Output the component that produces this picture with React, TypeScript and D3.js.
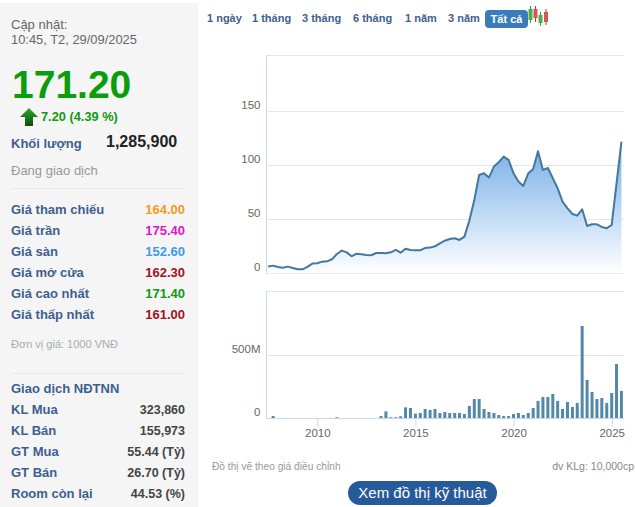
import * as d3 from "d3";
import { useEffect, useRef } from "react";

const W = 635;
const H = 507;

// one entry per quarter, Q3 2007 .. Q3 2025
const quarters = [
  "2007-07", "2007-10",
  "2008-01", "2008-04", "2008-07", "2008-10",
  "2009-01", "2009-04", "2009-07", "2009-10",
  "2010-01", "2010-04", "2010-07", "2010-10",
  "2011-01", "2011-04", "2011-07", "2011-10",
  "2012-01", "2012-04", "2012-07", "2012-10",
  "2013-01", "2013-04", "2013-07", "2013-10",
  "2014-01", "2014-04", "2014-07", "2014-10",
  "2015-01", "2015-04", "2015-07", "2015-10",
  "2016-01", "2016-04", "2016-07", "2016-10",
  "2017-01", "2017-04", "2017-07", "2017-10",
  "2018-01", "2018-04", "2018-07", "2018-10",
  "2019-01", "2019-04", "2019-07", "2019-10",
  "2020-01", "2020-04", "2020-07", "2020-10",
  "2021-01", "2021-04", "2021-07", "2021-10",
  "2022-01", "2022-04", "2022-07", "2022-10",
  "2023-01", "2023-04", "2023-07", "2023-10",
  "2024-01", "2024-04", "2024-07", "2024-10",
  "2025-01", "2025-04", "2025-07",
];

const prices = [
  6.2, 7.1, 5.9, 5.2, 6.2, 4.9, 3.7, 3.7, 5.9, 9, 9.3, 10.8, 11.1, 13, 17.9, 21, 19.4,
  15.7, 18.2, 17.6, 17, 16.7, 18.8, 18.8, 18.5, 19.4, 21.6, 19.1, 22.8, 21.6, 21.3, 21.3, 23.5,
  23.8, 25, 27.8, 30.2, 31.8, 32.4, 30.9, 34, 48.8, 67.9, 91, 92.6, 88.6, 98.8, 102.8, 108,
  105, 92.6, 84.9, 80.9, 92.6, 96.6, 113, 95.7, 97.5, 88, 78.7, 66.4, 60.2, 54.9, 53.4, 59.3,
  43.8, 45.4, 45.4, 42.9, 41.7, 44.8, 83.3, 121.9,
];

// millions of shares
const volumes = [
  0, 18, 0, 0, 0, 0, 0, 0, 0, 0, 0, 0, 0, 0, 8, 0, 0, 0, 0, 0, 0, 0, 0, 18, 55, 8, 8, 16, 87, 82, 37, 42, 74,
  66, 74, 42, 50, 42, 42, 42, 34, 98, 153, 153, 74, 50, 42, 26, 18, 18, 34, 42, 26, 42, 82, 138, 169, 169,
  193, 138, 74, 130, 90, 122, 733, 304, 209, 153, 161, 122, 201, 431, 217,
];

const priceTicks = [0, 50, 100, 150];
const volumeTicks = [0, 500];
const yearTicks = [2010, 2015, 2020, 2025];

const ranges = ["1 ngày", "1 tháng", "3 tháng", "6 tháng", "1 năm", "3 năm"];
const rangeX = [207, 252, 302, 353, 405, 448];

const priceLabels = ["Giá tham chiếu", "Giá trần", "Giá sàn", "Giá mở cửa", "Giá cao nhất", "Giá thấp nhất"];
const priceValues = ["164.00", "175.40", "152.60", "162.30", "171.40", "161.00"];
const priceColors = ["#f59a23", "#e313d0", "#3d9be9", "#a80f1c", "#0f9a12", "#a80f1c"];

const foreignLabels = ["KL Mua", "KL Bán", "GT Mua", "GT Bán", "Room còn lại"];
const foreignValues = ["323,860", "155,973", "55.44 (Tỷ)", "26.70 (Tỷ)", "44.53 (%)"];

const ARIAL = "'Liberation Sans', Arial, sans-serif";
const BLUE = "#3d5f8f";
const AXIS = "#ccd6eb";
const GRID = "#e6e6e6";

const parse = d3.timeParse("%Y-%m");
const dates = quarters.map((q) => parse(q) as Date);

const Chart = () => {
  const ref = useRef<SVGGElement>(null);

  useEffect(() => {
    const g = d3.select(ref.current);
    g.selectAll("*").remove();

    const x = d3
      .scaleTime()
      .domain([new Date(2010, 0, 1), new Date(2025, 0, 1)])
      .range([317.3, 611.7]);
    const yPrice = d3.scaleLinear().domain([0, 150]).range([273.3, 111.3]);
    const yVol = d3.scaleLinear().domain([0, 500]).range([418.3, 355.3]);

    const left = 266.5;
    const right = 624;

    const axisText = (sel: any) =>
      sel.attr("font-family", ARIAL).attr("font-size", 11.5).attr("fill", "#666");

    // frame lines
    g.append("line").attr("x1", left).attr("x2", right).attr("y1", 55.5).attr("y2", 55.5).attr("stroke", GRID);
    g.append("line").attr("x1", left).attr("x2", right).attr("y1", 291.5).attr("y2", 291.5).attr("stroke", GRID);
    g.append("line").attr("x1", left).attr("x2", left).attr("y1", 55).attr("y2", 273.5).attr("stroke", AXIS);
    g.append("line").attr("x1", left).attr("x2", left).attr("y1", 291).attr("y2", 418.5).attr("stroke", AXIS);

    // price axis
    const yAxisPrice = d3.axisLeft(yPrice).tickValues(priceTicks).tickSize(0).tickPadding(6);
    const pa = g.append("g").attr("transform", `translate(${left},0)`).call(yAxisPrice);
    pa.select(".domain").remove();
    axisText(pa.selectAll("text")).attr("dy", "-0.25em");

    g.append("g")
      .selectAll("line")
      .data(priceTicks)
      .enter()
      .append("line")
      .attr("x1", left)
      .attr("x2", right)
      .attr("y1", (d) => Math.round(yPrice(d)) + 0.5)
      .attr("y2", (d) => Math.round(yPrice(d)) + 0.5)
      .attr("stroke", GRID);

    // area + line
    const defs = g.append("defs");
    const grad = defs
      .append("linearGradient")
      .attr("id", "priceFill")
      .attr("gradientUnits", "userSpaceOnUse")
      .attr("x1", 0)
      .attr("x2", 0)
      .attr("y1", yPrice(113))
      .attr("y2", yPrice(0));
    grad.append("stop").attr("offset", "0%").attr("stop-color", "#7db2ea");
    grad.append("stop").attr("offset", "100%").attr("stop-color", "#ffffff");

    const area = d3
      .area<number>()
      .x((_, i) => x(dates[i]))
      .y0(yPrice(0))
      .y1((d) => yPrice(d));
    const line = d3
      .line<number>()
      .x((_, i) => x(dates[i]))
      .y((d) => yPrice(d));

    g.append("path").attr("d", area(prices)).attr("fill", "url(#priceFill)");
    g.append("path")
      .attr("d", line(prices))
      .attr("fill", "none")
      .attr("stroke", "#42799f")
      .attr("stroke-width", 2)
      .attr("stroke-linejoin", "round");

    // volume
    const yAxisVol = d3
      .axisLeft(yVol)
      .tickValues(volumeTicks)
      .tickSize(0)
      .tickPadding(6)
      .tickFormat((d) => (d === 0 ? "0" : `${d}M`));
    const va = g.append("g").attr("transform", `translate(${left},0)`).call(yAxisVol);
    va.select(".domain").remove();
    axisText(va.selectAll("text")).attr("dy", "-0.25em");

    g.append("line")
      .attr("x1", left)
      .attr("x2", right)
      .attr("y1", Math.round(yVol(500)) + 0.5)
      .attr("y2", Math.round(yVol(500)) + 0.5)
      .attr("stroke", GRID);

    const barW = 3;
    g.append("g")
      .selectAll("rect")
      .data(volumes)
      .enter()
      .append("rect")
      .attr("x", (_, i) => x(dates[i]) - barW / 2)
      .attr("y", (d) => yVol(d))
      .attr("width", barW)
      .attr("height", (d) => yVol(0) - yVol(d))
      .attr("fill", "#5389a8");

    // year axis
    const xAxis = d3
      .axisBottom(x)
      .tickValues(yearTicks.map((y) => new Date(y, 0, 1)))
      .tickSize(8)
      .tickPadding(2)
      .tickFormat((d) => d3.timeFormat("%Y")(d as Date));
    const xa = g.append("g").attr("transform", "translate(0,418.5)").call(xAxis);
    xa.select(".domain").remove();
    xa.selectAll("line").attr("stroke", AXIS);
    axisText(xa.selectAll("text"));
    g.append("line").attr("x1", left).attr("x2", right).attr("y1", 418.5).attr("y2", 418.5).attr("stroke", AXIS);
  }, []);

  return <g ref={ref} />;
};

export default function App() {
  return (
    <svg
      width={W}
      height={H}
      viewBox={`0 0 ${W} ${H}`}
      style={{ position: "absolute", left: 0, top: 0, background: "#fff" }}
      fontFamily={ARIAL}
    >
      <defs>
        <linearGradient id="arrowFill" x1="0" x2="0" y1="0" y2="1">
          <stop offset="0%" stopColor="#2fa82f" />
          <stop offset="100%" stopColor="#064f0a" />
        </linearGradient>
      </defs>

      {/* left panel */}
      <rect x={0} y={3} width={198} height={H - 3} fill="#f5f5f5" />
      <text x={11} y={29} fontSize={13} fill="#666">Cập nhật:</text>
      <text x={11} y={44} fontSize={12.9} fill="#666">10:45, T2, 29/09/2025</text>
      <text x={12} y={98} fontSize={39} fontWeight="bold" fill="#0a9e0a">171.20</text>
      <polygon points="29,108 38,117 33,117 33,126 25,126 25,117 20,117" fill="url(#arrowFill)" />
      <text x={41} y={121} fontSize={12.8} fontWeight="bold" fill="#119a11">7.20 (4.39 %)</text>
      <text x={11} y={148} fontSize={13} fontWeight="bold" fill={BLUE}>Khối lượng</text>
      <text x={106} y={147} fontSize={16} fontWeight="bold" fill="#222">1,285,900</text>
      <text x={11} y={175} fontSize={13} fill="#999">Đang giao dịch</text>
      <line x1={11} x2={185} y1={188.5} y2={188.5} stroke="#e8e8e8" />

      {priceLabels.map((label, i) => (
        <g key={label}>
          <text x={11} y={213.5 + i * 21} fontSize={13} fontWeight="bold" fill={BLUE}>{label}</text>
          <text x={185} y={213.5 + i * 21} fontSize={13} fontWeight="bold" textAnchor="end" fill={priceColors[i]}>
            {priceValues[i]}
          </text>
        </g>
      ))}

      <text x={11} y={348} fontSize={11} fill="#aaa">Đơn vị giá: 1000 VNĐ</text>
      <line x1={11} x2={185} y1={373.5} y2={373.5} stroke="#e8e8e8" />
      <text x={11} y={393} fontSize={13} fontWeight="bold" fill={BLUE}>Giao dịch NĐTNN</text>

      {foreignLabels.map((label, i) => (
        <g key={label}>
          <text x={11} y={414 + i * 21} fontSize={13} fontWeight="bold" fill={BLUE}>{label}</text>
          <text x={185} y={414 + i * 21} fontSize={12.5} fontWeight="bold" textAnchor="end" fill="#444">
            {foreignValues[i]}
          </text>
        </g>
      ))}

      {/* range buttons */}
      {ranges.map((label, i) => (
        <text key={label} x={rangeX[i]} y={22} fontSize={11} fontWeight="bold" fill={BLUE}>{label}</text>
      ))}
      <rect x={485} y={10} width={43} height={18} rx={4} fill="#3a7cba" />
      <text x={506.5} y={23} fontSize={11} fontWeight="bold" fill="#fff" textAnchor="middle">Tất cả</text>

      {/* candle icon */}
      <g strokeWidth={1}>
        <line x1={530.5} x2={530.5} y1={6} y2={23} stroke="#3a9c3a" />
        <rect x={528.5} y={9} width={4} height={11} fill="#4cae4c" />
        <line x1={535.5} x2={535.5} y1={6} y2={22} stroke="#c9302c" />
        <rect x={533.5} y={9} width={4} height={9} fill="#d9534f" />
        <line x1={540.5} x2={540.5} y1={12} y2={26} stroke="#3a9c3a" />
        <rect x={538.5} y={15} width={4} height={8} fill="#4cae4c" />
        <line x1={546} x2={546} y1={9} y2={25} stroke="#c9302c" />
        <rect x={544} y={12} width={4} height={10} fill="#d9534f" />
      </g>

      <Chart />

      {/* footer */}
      <text x={212} y={470} fontSize={10.2} fill="#999">Đồ thị vẽ theo giá điều chỉnh</text>
      <text x={634} y={470} fontSize={10.5} fill="#888" textAnchor="end">dv KLg: 10,000cp</text>
      <rect x={348} y={481} width={149} height={24} rx={12} fill="#265a9a" />
      <text x={422.5} y={498} fontSize={15} fill="#fff" textAnchor="middle">Xem đồ thị kỹ thuật</text>
    </svg>
  );
}
